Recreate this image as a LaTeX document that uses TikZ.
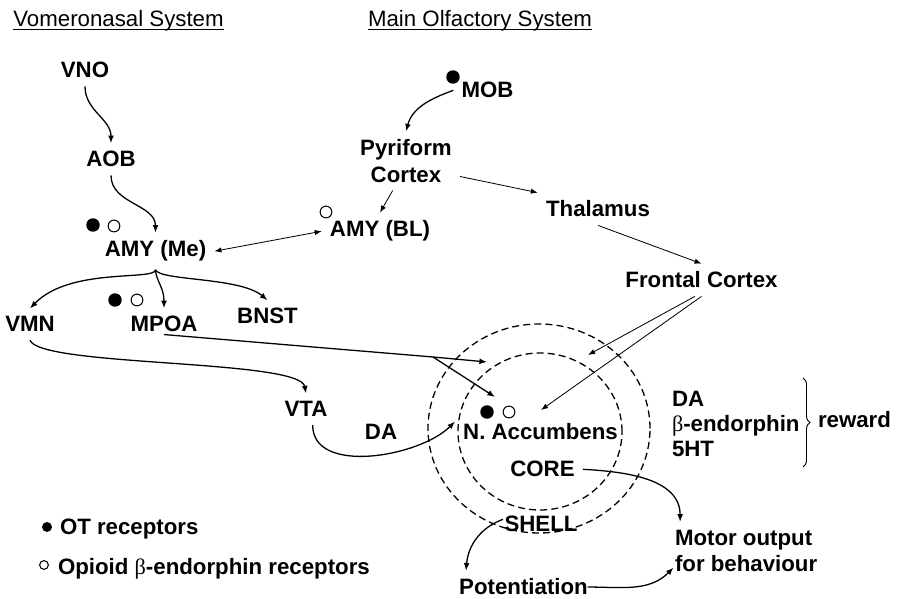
\documentclass[tikz,border=0pt]{standalone}
\usepackage{fontspec}
\setmainfont{Liberation Sans}
\newfontfamily\grkfont{Liberation Serif}
\newcommand{\bet}{{\grkfont\mdseries β}}
\usepackage{tikz}
\usetikzlibrary{arrows.meta, decorations.pathreplacing}

\begin{document}
\begin{tikzpicture}[x=0.3mm, y=0.3mm,
    lbl/.style={font=\fontsize{19}{22.5}\selectfont\bfseries, inner sep=3pt, outer sep=4pt},
    ttl/.style={font=\fontsize{19}{22.5}\selectfont, inner sep=0pt, outer sep=0pt},
    arr/.style={line width=1.1pt, -{Latex[length=6.5pt, width=5pt]}},
    thinarr/.style={line width=0.7pt, -{Latex[length=6pt, width=4.5pt]}},
    thinboth/.style={line width=0.7pt, {Latex[length=6pt, width=4.5pt]}-{Latex[length=6pt, width=4.5pt]}},
    otdot/.style={circle, fill=black, inner sep=0pt, minimum size=11.5pt},
    opdot/.style={circle, draw=black, line width=0.9pt, inner sep=0pt, minimum size=10pt},
    zone/.style={dash pattern=on 6pt off 3.5pt, line width=1.1pt}]
        \useasboundingbox (0,0) rectangle (898,599);

        % 标题
        \node[ttl, anchor=base] (vomtitle) at (118.5,572) {Vomeronasal System};
        \node[ttl, anchor=base] (olftitle) at (480,572) {Main Olfactory System};
        \draw[line width=1.2pt] ([yshift=-2pt]vomtitle.base west) -- ([yshift=-2pt]vomtitle.base east);
        \draw[line width=1.2pt] ([yshift=-2pt]olftitle.base west) -- ([yshift=-2pt]olftitle.base east);

        % 犁鼻系统
        \node[lbl, anchor=base] (vno) at (85,521) {VNO};
        \node[lbl, anchor=base] (aob) at (111,432) {AOB};
        \node[lbl, anchor=base] (amyme) at (155.5,342) {AMY (Me)};
        \node[otdot] (amymeot) at (93,374) {};
        \node[opdot] (amymeop) at (114,373) {};
        \node[lbl, anchor=base] (vmn) at (30,267) {VMN};
        \node[lbl, anchor=base] (mpoa) at (164,267) {MPOA};
        \node[otdot] (mpoaot) at (115,299) {};
        \node[opdot] (mpoaop) at (137,299) {};
        \node[lbl, anchor=base] (bnst) at (267.5,275) {BNST};
        \node[lbl, anchor=base] (vta) at (306,182) {VTA};
        \node[lbl, anchor=base] (datxt) at (381,159) {DA};

        % 主嗅觉系统
        \node[lbl, anchor=base] (mob) at (487.5,501) {MOB};
        \node[otdot] (mobot) at (453,522) {};
        \node[lbl, align=center] (pyr) at (406,438) {Pyriform\\Cortex};
        \node[lbl, anchor=base] (amybl) at (380,362) {AMY (BL)};
        \node[opdot] (amyblop) at (326,387) {};
        \node[lbl, anchor=base] (thal) at (598,382) {Thalamus};
        \node[lbl, anchor=base] (frontal) at (701.5,311) {Frontal Cortex};

        % 伏隔核 (壳 / 核心)
        \draw[zone] (539,170.5) ellipse (111 and 104.5);
        \draw[zone] (540,167.5) ellipse (82 and 78.5);
        \node[lbl, anchor=base] (nacc) at (540.5,159) {N. Accumbens};
        \node[otdot] (naccot) at (487,187) {};
        \node[opdot] (naccop) at (509,187) {};
        \node[lbl, anchor=base] (core) at (542.5,122) {CORE};
        \node[lbl, anchor=base] (shell) at (541,67) {SHELL};
        \coordinate (mpoabr) at (433,242);
        \coordinate (shellw) at (487,237);
        \coordinate (naccnw) at (495,202);
        \coordinate (shellne) at (588,244);
        \coordinate (naccn) at (541,189);

        % 奖赏
        \node[lbl, anchor=base west] (darw) at (663.8,192) {DA};
        \node[lbl, anchor=base west] (beta) at (663.8,167) {\bet-endorphin};
        \node[lbl, anchor=base west] (fiveht) at (663.8,142) {5HT};
        \draw[line width=0.8pt, decorate, decoration={brace, amplitude=6pt}] (803,221) -- (803,132);
        \node[lbl, anchor=base west] (reward) at (809.8,171) {reward};

        % 输出
        \node[lbl, align=left, anchor=west] (motor) at (666.8,48) {Motor output\\for behaviour};
        \node[lbl, anchor=base] (potent) at (523.5,4) {Potentiation};

        % 图例
        \node[otdot, minimum size=8.5pt] (legot) at (47,72) {};
        \node[lbl, anchor=base west] (legottxt) at (51.8,64) {OT receptors};
        \node[opdot, minimum size=7.5pt] (legop) at (44,34) {};
        \node[lbl, anchor=base west] (legoptxt) at (49.8,24) {Opioid \bet-endorphin receptors};

        % 连线
        \draw[arr] (vno.south) to[out=-90, in=90] (aob.north);
        \draw[arr] (aob.south) to[out=-90, in=90] (amyme.north);
        \draw[thinboth] (amyme.east) -- (amybl.west);
        \draw[arr] (mob.west) to[out=200, in=75] (pyr.north);
        \draw[thinarr] ([xshift=-4mm]pyr.south) -- (amybl.north);
        \draw[thinarr] (pyr.-16) -- (thal.north west);
        \draw[thinarr] (thal.south) -- (frontal.north);
        \draw[thinarr] ([xshift=-2mm]frontal.south) -- (shellne);
        \draw[thinarr] (frontal.south) -- (naccn);
        \draw[arr] (amyme.south) .. controls (155,318) and (70,332) .. (vmn.north);
        \draw[arr] (amyme.south) .. controls (156,318) and (164,312) .. (mpoa.north);
        \draw[arr] (amyme.south) .. controls (160,318) and (240,322) .. (bnst.north);
        \draw[arr] (vmn.south) .. controls (40,232) and (300,240) .. (vta.north);
        \draw[arr] ([yshift=5pt]mpoa.south) -- (mpoabr) -- (shellw);
        \draw[arr] (mpoabr) -- (naccnw);
        \draw[arr] ([xshift=2mm]vta.south) to[out=-90, in=225, looseness=0.9] (nacc.173);
        \draw[arr] (core.east) to[out=-3, in=90] ([xshift=4mm]motor.north west);
        \draw[arr] ([shift={(2mm,1.5mm)}]shell.west) to[out=200, in=85] ([xshift=4.5mm]potent.north west);
        \draw[arr] ([xshift=-2.5mm]potent.east) to[out=0, in=225] ([shift={(2mm,-5mm)}]motor.west);
    \end{tikzpicture}
\end{document}
